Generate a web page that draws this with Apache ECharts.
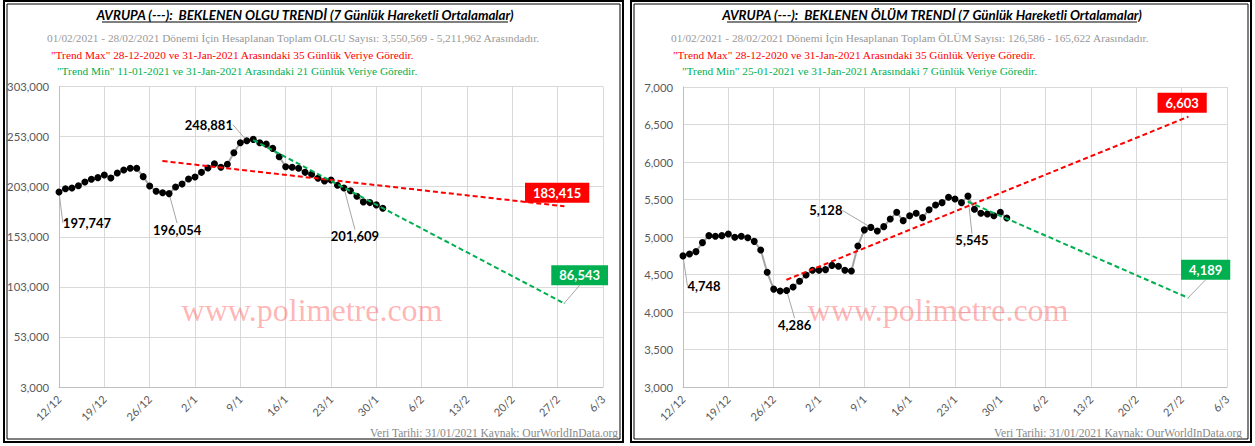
<!DOCTYPE html>
<html>
<head>
<meta charset="utf-8">
<title>Avrupa - Beklenen Olgu / Ölüm Trendi</title>
<script src="https://cdn.jsdelivr.net/npm/echarts@6/dist/echarts.min.js"></script>
<style>
  html, body { margin: 0; padding: 0; background: #fff; }
  #main { width: 1255px; height: 446px; }
</style>
</head>
<body>
<div id="main"></div>
<script>
// x ekseni: 12/12/2020'den itibaren gün sayısı (0 = 12/12, 50 = 31/1, 78 = 28/2)
const xTickLabels = ['12/12', '19/12', '26/12', '2/1', '9/1', '16/1', '23/1', '30/1', '6/2', '13/2', '20/2', '27/2', '6/3'];

// 7 günlük hareketli ortalama - olgu (12/12 - 31/1)
const caseValues = [
  197747, 201000, 201700, 204000, 207700, 210400, 212000, 214700, 211700, 216600,
  219600, 221300, 221300, 213000, 203700, 198400, 197000, 196054, 202700, 205700,
  210700, 212700, 217300, 221600, 225900, 222300, 225300, 236900, 246800, 248881,
  250200, 246800, 245500, 241200, 232900, 222900, 222300, 221300, 217300, 215400,
  211400, 208700, 209700, 204400, 201609, 199000, 193400, 187800, 187100, 184800,
  181500
];

// 7 günlük hareketli ortalama - ölüm (12/12 - 31/1)
const deathValues = [
  4748, 4773, 4805, 4925, 5018, 5009, 5018, 5040, 4996, 5009,
  4991, 4942, 4827, 4529, 4305, 4280, 4286, 4333, 4409, 4493,
  4556, 4556, 4565, 4622, 4609, 4556, 4547, 4880, 5095, 5128,
  5080, 5138, 5240, 5329, 5218, 5284, 5316, 5258, 5364, 5427,
  5458, 5530, 5507, 5458, 5545, 5369, 5316, 5307, 5284, 5329,
  5253
];

// trend çizgileri (başlangıç / bitiş günü ve değeri)
const caseTrendMaxDays = [16, 78];
const caseTrendMaxValues = [228600, 183415];
const caseTrendMinDays = [30, 78];
const caseTrendMinValues = [249500, 86543];
const deathTrendMaxDays = [16, 78];
const deathTrendMaxValues = [4430, 6603];
const deathTrendMinDays = [44, 78];
const deathTrendMinValues = [5470, 4189];

// etiket kaydırmaları (piksel)
const caseLabelOffsets = { 0: [28, 31], 17: [8, 36], 29: [-38, -16], 44: [11, 48] };
const deathLabelOffsets = { 0: [21, 30], 16: [8, 34], 29: [-45, -17], 44: [4, 44] };

const gridColor = '#d9d9d9';
const axisColor = '#bfbfbf';
const fmt = v => Math.round(v).toLocaleString('en-US');

function xAxisFor(gridIndex) {
  return {
    gridIndex: gridIndex,
    type: 'value',
    min: 0,
    max: 84,
    interval: 7,
    axisLine: { show: true, lineStyle: { color: axisColor } },
    axisTick: { show: false },
    splitLine: { show: true, lineStyle: { color: gridColor } },
    axisLabel: {
      rotate: 45,
      margin: 10,
      color: '#595959',
      fontFamily: 'Lato',
      fontSize: 11,
      formatter: v => xTickLabels[Math.round(v / 7)]
    }
  };
}

function yAxisFor(gridIndex, min, max, interval) {
  return {
    gridIndex: gridIndex,
    type: 'value',
    min: min,
    max: max,
    interval: interval,
    axisLine: { show: true, lineStyle: { color: axisColor } },
    axisTick: { show: false },
    splitLine: { show: true, lineStyle: { color: gridColor } },
    axisLabel: {
      margin: 10,
      color: '#595959',
      fontFamily: 'Lato',
      fontSize: 11.3,
      formatter: fmt
    }
  };
}

function mainSeries(idx, values, offsets) {
  return {
    type: 'line',
    xAxisIndex: idx,
    yAxisIndex: idx,
    z: 3,
    symbol: 'circle',
    symbolSize: 7,
    lineStyle: { color: '#a5a5a5', width: 2 },
    itemStyle: { color: '#000' },
    label: {
      show: false,
      position: 'inside',
      color: '#000',
      fontFamily: 'Lato',
      fontWeight: 'bold',
      fontSize: 13,
      formatter: p => fmt(p.value[1])
    },
    labelLine: { show: true, lineStyle: { color: '#a6a6a6', width: 1 } },
    labelLayout: p => {
      const o = offsets[p.dataIndex];
      return o ? { dx: o[0], dy: o[1] } : {};
    },
    data: values.map((v, i) => offsets[i] ? { value: [i, v], label: { show: true } } : [i, v])
  };
}

function trendSeries(idx, days, values, color, offset, guide) {
  return {
    type: 'line',
    xAxisIndex: idx,
    yAxisIndex: idx,
    z: 4,
    symbol: 'circle',
    symbolSize: 1,
    lineStyle: { color: color, width: 2, type: [5, 3] },
    itemStyle: { color: color },
    label: {
      show: false,
      position: 'inside',
      color: '#fff',
      backgroundColor: color,
      padding: [4, 8, 3, 8],
      fontFamily: 'Lato',
      fontWeight: 'bold',
      fontSize: 13,
      formatter: p => fmt(p.value[1])
    },
    labelLine: { show: guide, lineStyle: { color: '#a6a6a6', width: 1 } },
    labelLayout: p => p.dataIndex === days.length - 1 ? { dx: offset[0], dy: offset[1] } : {},
    data: days.map((d, i) => i === days.length - 1 ? { value: [d, values[i]], label: { show: true } } : [d, values[i]])
  };
}

function txt(x, y, text, style) {
  return {
    type: 'text',
    x: x,
    y: y,
    z: 10,
    style: Object.assign({ text: text, textVerticalAlign: 'middle' }, style)
  };
}

const serif = 'Liberation Serif';
const titleStyle = { fill: '#000', fontFamily: 'Lato', fontWeight: 'bold', fontStyle: 'italic', fontSize: 13.3, textAlign: 'center' };
const greyStyle = { fill: '#999999', fontFamily: serif, fontSize: 11.3 };
const redStyle = { fill: '#ff0000', fontFamily: serif, fontSize: 11.3 };
const greenStyle = { fill: '#00b050', fontFamily: serif, fontSize: 11.3 };
const markStyle = { fill: 'rgba(255, 90, 90, 0.45)', fontFamily: serif, fontSize: 32, textAlign: 'center' };
const footStyle = { fill: '#888888', fontFamily: serif, fontSize: 11.5, textAlign: 'right' };

function frame(x, w) {
  return [
    { type: 'rect', z: 10, shape: { x: x, y: 1, width: w, height: 441 }, style: { fill: 'none', stroke: '#000', lineWidth: 2 } },
    { type: 'rect', z: 10, shape: { x: x + 3, y: 4, width: w - 6, height: 435 }, style: { fill: 'none', stroke: '#000', lineWidth: 1 } }
  ];
}

const chart = echarts.init(document.getElementById('main'), null, { renderer: 'svg' });

const option = {
  animation: false,
  backgroundColor: '#fff',
  grid: [
    { left: 59, top: 86.5, width: 544, height: 300.5 },
    { left: 683, top: 87, width: 544, height: 300 }
  ],
  xAxis: [xAxisFor(0), xAxisFor(1)],
  yAxis: [yAxisFor(0, 3000, 303000, 50000), yAxisFor(1, 3000, 7000, 500)],
  graphic: [
    ...frame(4, 619),
    ...frame(631, 620),
    // sol grafik
    txt(305, 15, 'AVRUPA (---):  BEKLENEN OLGU TRENDİ (7 Günlük Hareketli Ortalamalar)', titleStyle),
    { type: 'line', z: 10, shape: { x1: 102, y1: 22, x2: 508, y2: 22 }, style: { stroke: '#000', lineWidth: 1 } },
    txt(47, 37.5, '01/02/2021 - 28/02/2021 Dönemi İçin Hesaplanan Toplam OLGU Sayısı: 3,550,569 - 5,211,962 Arasındadır.', greyStyle),
    txt(51, 54.5, '"Trend Max" 28-12-2020 ve 31-Jan-2021 Arasındaki 35 Günlük Veriye Göredir.', redStyle),
    txt(57, 71, '"Trend Min" 11-01-2021 ve 31-Jan-2021 Arasındaki 21 Günlük Veriye Göredir.', greenStyle),
    txt(312, 310, 'www.polimetre.com', markStyle),
    txt(618, 433, 'Veri Tarihi: 31/01/2021 Kaynak: OurWorldInData.org', footStyle),
    // sağ grafik
    txt(932, 15, 'AVRUPA (---):  BEKLENEN ÖLÜM TRENDİ (7 Günlük Hareketli Ortalamalar)', titleStyle),
    { type: 'line', z: 10, shape: { x1: 727, y1: 22, x2: 1137, y2: 22 }, style: { stroke: '#000', lineWidth: 1 } },
    txt(671, 37.5, '01/02/2021 - 28/02/2021 Dönemi İçin Hesaplanan Toplam ÖLÜM Sayısı: 126,586 - 165,622 Arasındadır.', greyStyle),
    txt(673, 54.5, '"Trend Max" 28-12-2020 ve 31-Jan-2021 Arasındaki 35 Günlük Veriye Göredir.', redStyle),
    txt(682, 71, '"Trend Min" 25-01-2021 ve 31-Jan-2021 Arasındaki 7 Günlük Veriye Göredir.', greenStyle),
    txt(938, 310, 'www.polimetre.com', markStyle),
    txt(1242, 433, 'Veri Tarihi: 31/01/2021 Kaynak: OurWorldInData.org', footStyle)
  ],
  series: [
    mainSeries(0, caseValues, caseLabelOffsets),
    trendSeries(0, caseTrendMaxDays, caseTrendMaxValues, '#ff0000', [-7, -13.5], false),
    trendSeries(0, caseTrendMinDays, caseTrendMinValues, '#00b050', [15.5, -28], true),
    mainSeries(1, deathValues, deathLabelOffsets),
    trendSeries(1, deathTrendMaxDays, deathTrendMaxValues, '#ff0000', [-6, -14], false),
    trendSeries(1, deathTrendMinDays, deathTrendMinValues, '#00b050', [17.5, -28], true)
  ]
};

chart.setOption(option);
</script>
</body>
</html>
